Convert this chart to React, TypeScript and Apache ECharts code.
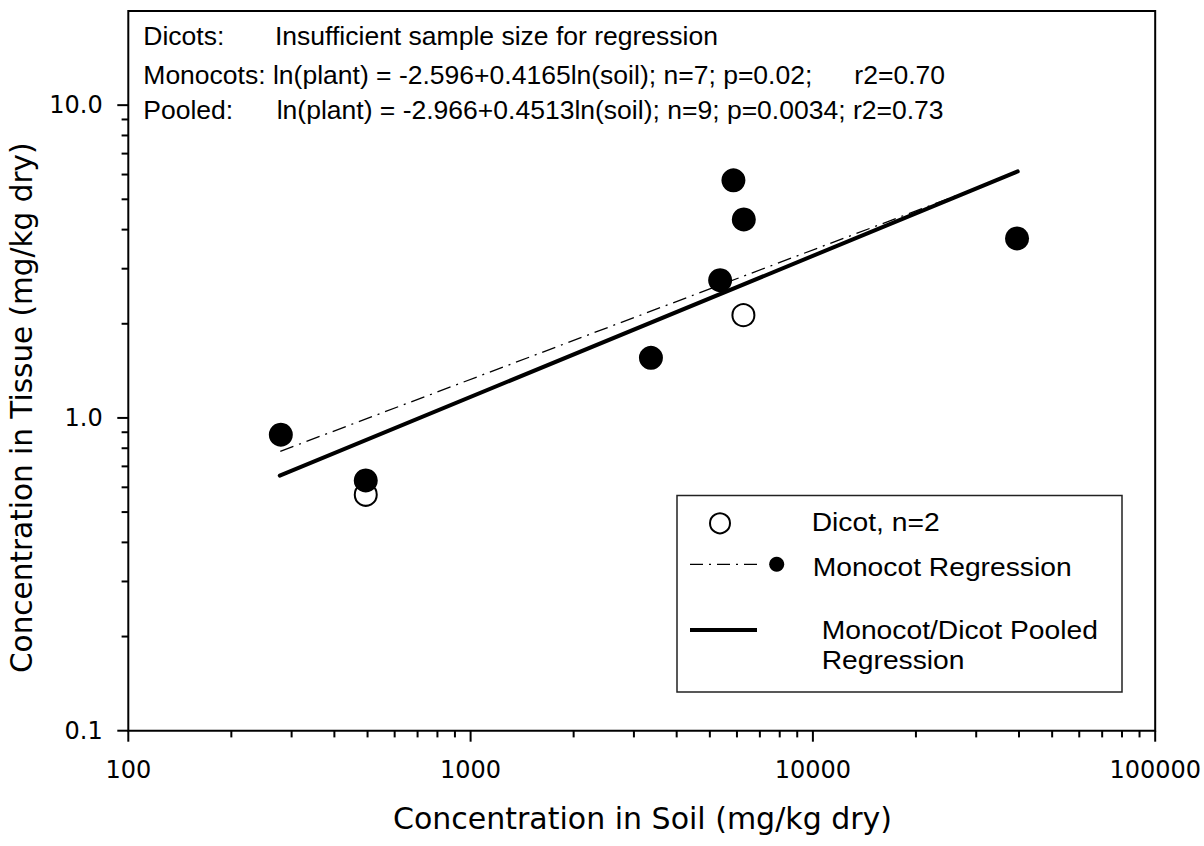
import React, { useEffect, useRef } from "react";
import * as echarts from "echarts";

// ---- data ----
const monocotSoil = [279, 494, 3364, 5358, 5859, 6283, 39480];
const monocotTissue = [0.884, 0.631, 1.556, 2.757, 5.75, 4.31, 3.75];
const dicotSoil = [494, 6266];
const dicotTissue = [0.568, 2.13];
const pooledLineSoil = [277, 39660];
const pooledLineTissue = [0.654, 6.14];
const monocotLineSoil = [278, 39000];
const monocotLineTissue = [0.782, 6.05];

const xMajorTicks = [100, 1000, 10000, 100000];
const xMinorTicks = [
  200, 300, 400, 500, 600, 700, 800, 900,
  2000, 3000, 4000, 5000, 6000, 7000, 8000, 9000,
  20000, 30000, 40000, 50000, 60000, 70000, 80000, 90000,
];
const yMajorTicks = [0.1, 1, 10];
const yMinorTicks = [0.2, 0.3, 0.4, 0.5, 0.6, 0.7, 0.8, 0.9, 2, 3, 4, 5, 6, 7, 8, 9];

const xTitle = "Concentration in Soil (mg/kg dry)";
const yTitle = "Concentration in Tissue (mg/kg dry)";
const legendLabels = ["Dicot, n=2", "Monocot Regression", "Monocot/Dicot Pooled", "Regression"];

const AX_FONT = '"DejaVu Sans", sans-serif';
const TXT_FONT = '"Liberation Sans", Arial, sans-serif';

function txt(text: string, x: number, y: number, size: number, scaleX: number, align = "left", family = TXT_FONT, rotation = 0) {
  return {
    type: "text",
    x,
    y,
    scaleX,
    rotation,
    silent: true,
    style: {
      text,
      fontSize: size,
      fontFamily: family,
      fill: "#000",
      align,
      verticalAlign: "middle",
      textAlign: align,
      textVerticalAlign: "middle",
    },
  };
}

export default function App() {
  const ref = useRef<HTMLDivElement>(null);
  useEffect(() => {
    if (!ref.current) return;
    const chart = echarts.init(ref.current, undefined, { renderer: "svg" });

    const tickData = [
      ...xMajorTicks.map((v) => [v, 0.1, 0]),
      ...xMinorTicks.map((v) => [v, 0.1, 1]),
      ...yMajorTicks.map((v) => [100, v, 2]),
      ...yMinorTicks.map((v) => [100, v, 3]),
    ];

    const annSize = 26;
    const annScale = 1.02;
    const legSize = 25;
    const legScale = 1.13;

    chart.setOption({
      animation: false,
      backgroundColor: "#fff",
      grid: {
        left: 128.3,
        right: 47.3,
        top: 11,
        bottom: 115.3,
        show: true,
        borderColor: "#000",
        borderWidth: 2,
      },
      xAxis: {
        type: "log",
        logBase: 10,
        min: 100,
        max: 100000,
        axisLine: { show: false },
        axisTick: { show: false },
        splitLine: { show: false },
        minorTick: { show: false },
        axisLabel: {
          fontFamily: AX_FONT,
          fontSize: 24,
          color: "#000",
          margin: 27.5,
          formatter: (v: number) => String(Math.round(v)),
        },
      },
      yAxis: {
        type: "log",
        logBase: 10,
        min: 0.1,
        max: 20,
        axisLine: { show: false },
        axisTick: { show: false },
        splitLine: { show: false },
        axisLabel: {
          fontFamily: AX_FONT,
          fontSize: 24,
          color: "#000",
          margin: 25.6,
          showMaxLabel: false,
          formatter: (v: number) => v.toFixed(1),
        },
      },
      series: [
        {
          type: "custom",
          silent: true,
          clip: false,
          data: tickData,
          renderItem: (_p: any, api: any) => {
            const pt = api.coord([api.value(0), api.value(1)]);
            const kind = api.value(2);
            const len = kind % 2 === 0 ? 11 : 6.7;
            const shape =
              kind < 2
                ? { x1: pt[0], y1: pt[1], x2: pt[0], y2: pt[1] + len }
                : { x1: pt[0] - len, y1: pt[1], x2: pt[0], y2: pt[1] };
            return { type: "line", shape, style: { stroke: "#000", lineWidth: 2 } };
          },
          z: 1,
        },
        {
          name: "Monocot Regression Line",
          type: "line",
          data: monocotLineSoil.map((x, i) => [x, monocotLineTissue[i]]),
          symbol: "none",
          lineStyle: { color: "#000", width: 1.3, type: [14, 6, 2, 6] },
          z: 2,
        },
        {
          name: "Pooled Regression",
          type: "line",
          data: pooledLineSoil.map((x, i) => [x, pooledLineTissue[i]]),
          symbol: "none",
          lineStyle: { color: "#000", width: 4, cap: "round" },
          z: 3,
        },
        {
          name: "Dicot",
          type: "scatter",
          data: dicotSoil.map((x, i) => [x, dicotTissue[i]]),
          symbol: "circle",
          symbolSize: 22,
          itemStyle: { color: "#fff", borderColor: "#000", borderWidth: 2, opacity: 1 },
          z: 4,
        },
        {
          name: "Monocot",
          type: "scatter",
          data: monocotSoil.map((x, i) => [x, monocotTissue[i]]),
          symbol: "circle",
          symbolSize: 24,
          itemStyle: { color: "#000", opacity: 1 },
          z: 5,
        },
      ],
      graphic: {
        elements: [
          // annotation block
          txt("Dicots:", 143.3, 36, annSize, annScale),
          txt("Insufficient sample size for regression", 275, 36, annSize, annScale),
          txt("Monocots: ln(plant) = -2.596+0.4165ln(soil); n=7; p=0.02;", 143.3, 74.7, annSize, annScale),
          txt("r2=0.70", 945, 74.7, annSize, annScale, "right"),
          txt("Pooled:", 143.3, 110, annSize, annScale),
          txt("ln(plant) = -2.966+0.4513ln(soil); n=9; p=0.0034; r2=0.73", 276.7, 110, annSize, annScale),
          // axis titles
          txt(xTitle, 642.5, 818, 30, 1, "center", AX_FONT),
          txt(yTitle, 21.7, 673, 29.5, 1, "left", AX_FONT, Math.PI / 2),
          // legend
          {
            type: "rect",
            shape: { x: 677, y: 495.5, width: 445, height: 196.5 },
            style: { fill: "#fff", stroke: "#222", lineWidth: 1.5 },
            silent: true,
            z: 10,
          },
          {
            type: "circle",
            shape: { cx: 720, cy: 523.3, r: 10 },
            style: { fill: "#fff", stroke: "#000", lineWidth: 2 },
            silent: true,
            z: 11,
          },
          {
            type: "line",
            shape: { x1: 690, y1: 564.3, x2: 757, y2: 564.3 },
            style: { stroke: "#000", lineWidth: 1.2, lineDash: [13, 6, 2, 6] },
            silent: true,
            z: 11,
          },
          {
            type: "circle",
            shape: { cx: 776.7, cy: 564.3, r: 7.5 },
            style: { fill: "#000" },
            silent: true,
            z: 11,
          },
          {
            type: "line",
            shape: { x1: 690, y1: 630, x2: 757, y2: 630 },
            style: { stroke: "#000", lineWidth: 4 },
            silent: true,
            z: 11,
          },
          { ...txt(legendLabels[0], 811.7, 523, legSize, legScale), z: 11 },
          { ...txt(legendLabels[1], 812.7, 568, legSize, legScale), z: 11 },
          { ...txt(legendLabels[2], 821.7, 631, legSize, legScale), z: 11 },
          { ...txt(legendLabels[3], 821.7, 661, legSize, legScale), z: 11 },
        ],
      },
    });
    return () => chart.dispose();
  }, []);

  return (
    <div
      ref={ref}
      style={{ position: "absolute", left: 0, top: 0, width: 1204, height: 846, background: "#fff" }}
    />
  );
}
